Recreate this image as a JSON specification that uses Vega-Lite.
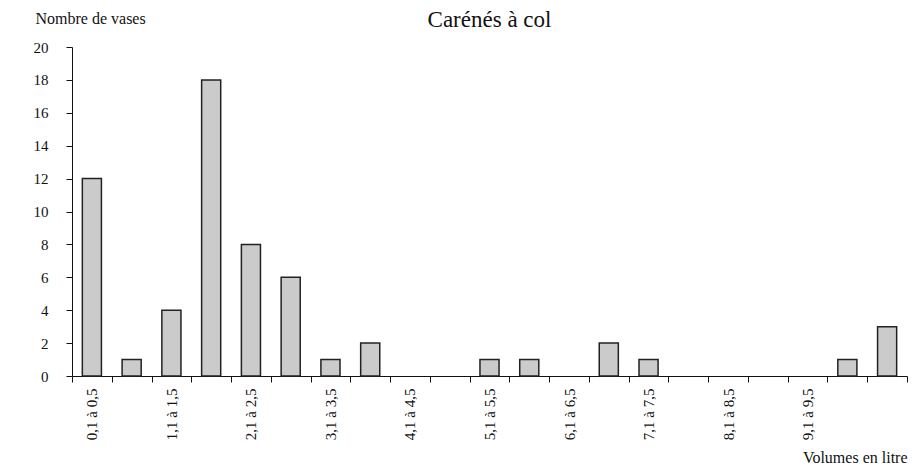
{
  "$schema": "https://vega.github.io/schema/vega-lite/v6.json",
  "width": 835,
  "height": 329,
  "autosize": {"type": "none"},
  "padding": {"left": 72, "top": 47, "right": 13, "bottom": 94},
  "background": "white",
  "title": {
    "text": "Carénés à col",
    "font": "Liberation Serif",
    "fontSize": 23,
    "fontWeight": "normal",
    "color": "#111",
    "anchor": "middle",
    "frame": "group",
    "offset": 0,
    "dy": 22
  },
  "config": {
    "view": {"stroke": null},
    "font": "Liberation Serif"
  },
  "data": {
    "values": [
      {"classe": "0,1 à 0,5", "n": 12},
      {"classe": "0,6 à 1", "n": 1},
      {"classe": "1,1 à 1,5", "n": 4},
      {"classe": "1,6 à 2", "n": 18},
      {"classe": "2,1 à 2,5", "n": 8},
      {"classe": "2,6 à 3", "n": 6},
      {"classe": "3,1 à 3,5", "n": 1},
      {"classe": "3,6 à 4", "n": 2},
      {"classe": "4,1 à 4,5", "n": 0},
      {"classe": "4,6 à 5", "n": 0},
      {"classe": "5,1 à 5,5", "n": 1},
      {"classe": "5,6 à 6", "n": 1},
      {"classe": "6,1 à 6,5", "n": 0},
      {"classe": "6,6 à 7", "n": 2},
      {"classe": "7,1 à 7,5", "n": 1},
      {"classe": "7,6 à 8", "n": 0},
      {"classe": "8,1 à 8,5", "n": 0},
      {"classe": "8,6 à 9", "n": 0},
      {"classe": "9,1 à 9,5", "n": 0},
      {"classe": "9,6 à 10", "n": 1},
      {"classe": "plus de 10", "n": 3}
    ]
  },
  "mark": {
    "type": "bar",
    "width": {"band": 0.48},
    "fill": "#cbcbcb",
    "stroke": "#222",
    "strokeWidth": 1.5
  },
  "encoding": {
    "opacity": {"condition": {"test": "datum.n == 0", "value": 0}, "value": 1},
    "x": {
      "field": "classe",
      "type": "nominal",
      "sort": null,
      "scale": {"paddingInner": 0, "paddingOuter": 0},
      "axis": {
        "title": "Volumes en litre",
        "titleFont": "Liberation Serif",
        "titleFontSize": 16,
        "titleFontWeight": "normal",
        "titleColor": "#111",
        "titleAnchor": "end",
        "titleAlign": "right",
        "titleBaseline": "alphabetic",
        "titleX": 835,
        "titleY": 86,
        "labelAngle": -90,
        "labelAlign": "right",
        "labelBaseline": "middle",
        "labelFont": "Liberation Serif",
        "labelFontSize": 15,
        "labelColor": "#111",
        "labelPadding": 6,
        "labelExpr": "test(/,1 à/, datum.value) ? datum.value : ''",
        "tickBand": "extent",
        "tickSize": 6,
        "tickColor": "#111",
        "domainColor": "#111",
        "domainWidth": 1,
        "labelOverlap": false
      }
    },
    "y": {
      "field": "n",
      "type": "quantitative",
      "scale": {"domain": [0, 20], "nice": false},
      "axis": {
        "values": [0, 2, 4, 6, 8, 10, 12, 14, 16, 18, 20],
        "title": "Nombre de vases",
        "titleFont": "Liberation Serif",
        "titleFontSize": 16,
        "titleFontWeight": "normal",
        "titleColor": "#111",
        "titleAngle": 0,
        "titleAlign": "left",
        "titleBaseline": "alphabetic",
        "titleAnchor": "start",
        "titleX": -37,
        "titleY": -24,
        "labelFont": "Liberation Serif",
        "labelFontSize": 15,
        "labelColor": "#111",
        "labelPadding": 18,
        "tickSize": 6,
        "tickColor": "#111",
        "domainColor": "#111",
        "grid": false
      }
    }
  }
}
